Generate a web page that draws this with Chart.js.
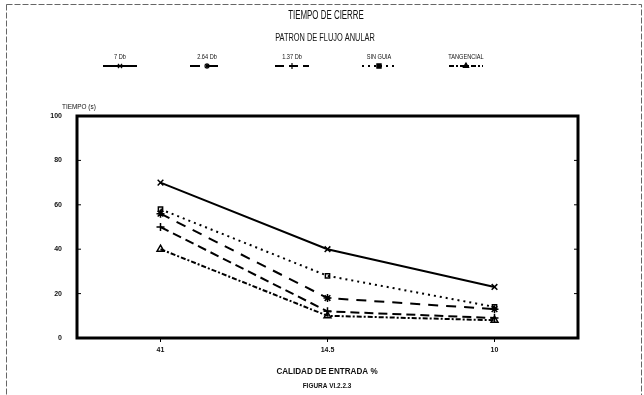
<!DOCTYPE html>
<html>
<head>
<meta charset="utf-8">
<script src="https://cdn.jsdelivr.net/npm/chart.js@4.4.1/dist/chart.umd.min.js"></script>
<style>
  html, body { margin: 0; padding: 0; background: #fff; }
  #wrap { width: 644px; height: 395px; }
</style>
</head>
<body>
<div id="wrap"><canvas id="c" width="644" height="395"></canvas></div>
<script>
// Inlet quality categories (x axis) and closing time in seconds per guide type
const categories = ['41', '14.5', '10'];
const yTicks = [0, 20, 40, 60, 80, 100];
const seriesNames = ['7 Db', '2.64 Db', '1.37 Db', 'SIN GUIA', 'TANGENCIAL'];
const db7 = [70, 40, 23];
const db264 = [56, 18, 13];
const db137 = [50, 12, 9];
const sinGuia = [58, 28, 14];
const tangencial = [40, 10, 8];

const FONT = "'Liberation Sans Narrow', 'Liberation Sans', Arial, sans-serif";

// line style per series: dash pattern and marker
const styles = [
  { dash: [], point: 'crossRot', r: 4 },
  { dash: [10, 8], point: 'star', r: 4 },
  { dash: [9, 5], point: 'cross', r: 4 },
  { dash: [2, 4], point: 'rect', r: 3 },
  { dash: [5, 2, 2, 2], point: 'triangle', r: 4 }
];
const values = [db7, db264, db137, sinGuia, tangencial];

const datasets = seriesNames.map((name, i) => ({
  label: name,
  data: values[i],
  borderColor: '#000',
  backgroundColor: 'rgba(0,0,0,0)',
  borderWidth: 2,
  borderDash: styles[i].dash,
  pointStyle: styles[i].point,
  pointRadius: styles[i].r,
  pointBorderWidth: 1.5,
  pointBorderColor: '#000',
  pointBackgroundColor: 'rgba(0,0,0,0)',
  tension: 0
}));

// text drawn horizontally condensed
function drawText(ctx, text, x, y, size, sx, weight, align) {
  ctx.save();
  ctx.font = (weight || 'normal') + ' ' + size + 'px ' + FONT;
  ctx.fillStyle = '#111';
  ctx.textBaseline = 'middle';
  ctx.translate(x, y);
  ctx.scale(sx, 1);
  ctx.textAlign = align || 'center';
  ctx.fillText(text, 0, 0);
  ctx.restore();
}

const decor = {
  id: 'decor',
  beforeDraw(chart) {
    const ctx = chart.ctx;
    ctx.save();
    ctx.fillStyle = '#fff';
    ctx.fillRect(0, 0, chart.width, chart.height);
    // page frame
    ctx.strokeStyle = '#666';
    ctx.lineWidth = 1;
    ctx.setLineDash([6, 2]);
    ctx.strokeRect(6.5, 4.5, 635, 400);
    ctx.restore();
  },
  afterDraw(chart) {
    const ctx = chart.ctx;
    const a = chart.chartArea;
    const ys = chart.scales.y;
    // plot frame
    ctx.save();
    ctx.strokeStyle = '#000';
    ctx.lineWidth = 3;
    ctx.strokeRect(a.left, a.top, a.right - a.left, a.bottom - a.top);
    // inward ticks on both sides
    ctx.lineWidth = 1;
    yTicks.forEach(v => {
      const py = ys.getPixelForValue(v);
      ctx.beginPath();
      ctx.moveTo(a.left, py); ctx.lineTo(a.left + 4, py);
      ctx.moveTo(a.right, py); ctx.lineTo(a.right - 4, py);
      ctx.stroke();
    });
    ctx.restore();

    drawText(ctx, 'TIEMPO DE CIERRE', 326, 16, 12, 0.66);
    drawText(ctx, 'PATRON DE FLUJO ANULAR', 325, 38, 10, 0.74);
    drawText(ctx, 'TIEMPO (s)', 62, 107, 8, 0.8, 'normal', 'left');
    drawText(ctx, 'CALIDAD DE ENTRADA %', 327, 372, 9, 0.9, 'bold');
    drawText(ctx, 'FIGURA VI.2.2.3', 327, 386, 7, 0.92, 'bold');

    // legend: name above a short sample of each line, marker in the middle
    const centers = [120, 207, 292, 379, 466];
    chart.data.datasets.forEach((ds, i) => {
      const cx = centers[i];
      drawText(ctx, ds.label, cx, 57, 7, 0.8);
      ctx.save();
      ctx.strokeStyle = '#000';
      ctx.lineWidth = 2;
      ctx.setLineDash(ds.borderDash);
      ctx.beginPath();
      ctx.moveTo(cx - 17, 66);
      ctx.lineTo(cx + 17, 66);
      ctx.stroke();
      ctx.setLineDash([]);
      ctx.lineWidth = 1.2;
      Chart.helpers.drawPoint(ctx, { pointStyle: ds.pointStyle, radius: 3, borderWidth: 1.2 }, cx, 66);
      ctx.restore();
    });
  }
};

new Chart(document.getElementById('c'), {
  type: 'line',
  data: { labels: categories, datasets },
  options: {
    responsive: false,
    animation: false,
    devicePixelRatio: 1,
    layout: { padding: { top: 116, right: 66, left: 0, bottom: 0 } },
    plugins: { legend: { display: false }, title: { display: false }, tooltip: { enabled: false } },
    scales: {
      x: {
        type: 'category',
        offset: true,
        afterFit(s) { s.height = 57; },
        grid: { display: true, drawOnChartArea: false, drawTicks: true, tickLength: 4, color: '#000' },
        border: { display: false },
        ticks: { color: '#111', font: { family: FONT, size: 7, weight: 'bold' }, padding: 4, maxRotation: 0 }
      },
      y: {
        min: 0,
        max: 100,
        afterFit(s) { s.width = 77; },
        afterBuildTicks(s) { s.ticks = yTicks.map(v => ({ value: v })); },
        grid: { display: false },
        border: { display: false },
        ticks: { color: '#111', font: { family: FONT, size: 7, weight: 'bold' }, padding: 7 }
      }
    }
  },
  plugins: [decor]
});
</script>
</body>
</html>
